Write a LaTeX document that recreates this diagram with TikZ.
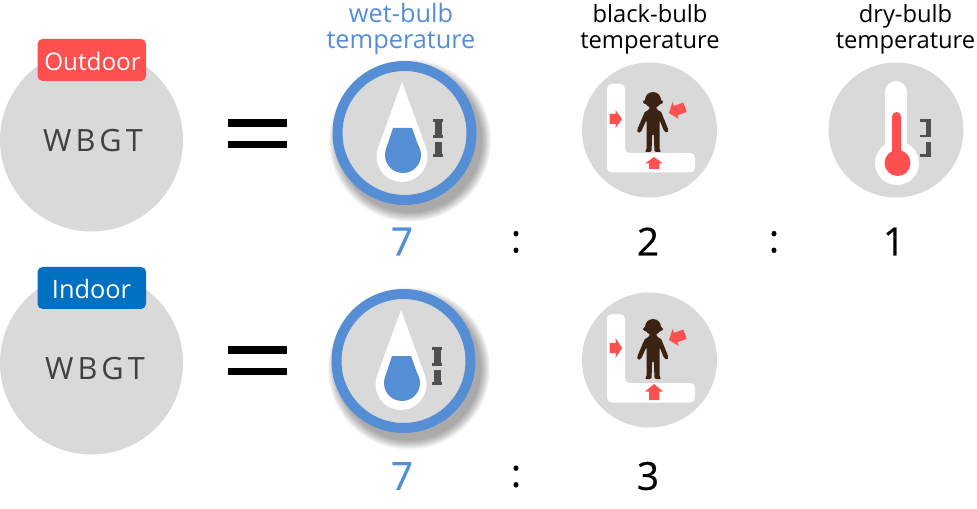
\documentclass[tikz,border=0pt]{standalone}
\usepackage{fontspec}
\setmainfont{Open Sans}
\definecolor{cgray}{HTML}{D9D9D9}
\definecolor{cblue}{HTML}{558ED5}
\definecolor{cred}{HTML}{FF5050}
\definecolor{cindoor}{HTML}{0070C0}
\definecolor{ctext}{HTML}{404040}
\definecolor{cruler}{HTML}{505050}
\definecolor{cbrown}{HTML}{3B2314}
\tikzset{
  x=0.75pt,y=-0.75pt,
  headtext/.style={align=center,font=\fontsize{17.8}{19.5}\selectfont,text=black,inner sep=0pt},
  wethead/.style={align=center,font=\fontsize{19}{19.5}\selectfont,text=cblue,inner sep=0pt},
  numtext/.style={font=\fontsize{29}{32}\selectfont\addfontfeature{FakeBold=0.5},text=black,inner sep=0pt},
  wbgt/.style={font=\fontsize{23}{26}\selectfont,text=ctext,inner sep=0pt},
  tagtext/.style={font=\fontsize{18.2}{20}\selectfont,text=white,inner sep=0pt},
}
\newcommand{\wbgtdisc}[3]{%
  \fill[cgray] (91.5,#1) circle[radius=91.5];
  \fill[#3,rounded corners=3.8pt] (37.5,#2) rectangle (146,#2+42);
}
\newcommand{\equalsign}[1]{%
  \fill[black] (228,#1) rectangle (287,#1+8);
  \fill[black] (228,#1+22) rectangle (287,#1+29.5);
}
\newcommand{\wetbulb}{%
  \foreach \rr in {81,80,79,78,77,76,75,74,73,72} {
    \fill[black,opacity=0.04] (410,140.5) circle[radius=\rr];
  }
  \fill[cgray] (404.5,133) circle[radius=67];
  \draw[cblue,line width=7.5pt] (404.5,133) circle[radius=67];
  \fill[white] (402,82) -- (426,147.8) -- (378,147.8) -- cycle;
  \fill[white] (402,156.5) circle[radius=25.5];
  \fill[cblue] (393,128) -- (412,128) -- (419.5,149) -- (386,149) -- cycle;
  \fill[cblue] (403,155) circle[radius=18];
  \fill[cruler] (433,119) rectangle (442.5,122);
  \fill[cruler] (435,122) rectangle (441.5,135);
  \fill[cruler] (433,135) rectangle (442.5,138);
  \fill[cruler] (435,142) rectangle (441.5,154);
  \fill[cruler] (433,154) rectangle (442.5,157);
}
\newcommand{\blackbase}{%
  \fill[cgray] (649.5,130) circle[radius=67.5];
  \fill[white,rounded corners=3.5pt] (607,84) -- (625,84) -- (625,153) -- (695,153) -- (695,172.5) -- (607,172.5) -- cycle;
}
\newcommand{\person}{%
  \fill[cbrown] (653,100) circle[radius=8];
  \fill[cbrown] (653,102) ellipse[x radius=10,y radius=3.5];
  \fill[cbrown,rounded corners=1pt] (650,105) -- (656,105) -- (657,110) -- (661,111.5) -- (668.5,130) -- (667,133) -- (664,131) -- (659.5,120)
     -- (659.5,150) -- (661.5,152) -- (654.5,152) -- (653.8,134) -- (652.2,134) -- (651.5,152) -- (644.5,152) -- (646.5,150) -- (646.5,120)
     -- (641,132) -- (638,133) -- (637,130) -- (645,111.5) -- (649,110) -- cycle;
}
\newcommand{\slantarrow}{%
  \fill[cred] (669,113) -- (672.5,102) -- (674,105.9) -- (683.3,102.5) -- (686.7,111.9) -- (677.3,115.3) -- (678.7,119) -- cycle;
}
\newcommand{\drybulb}{%
  \fill[cgray] (896,130) circle[radius=67.5];
  \draw[white,line width=16.5pt,line cap=round] (896,92) -- (896,150);
  \fill[white] (897,163) circle[radius=22];
  \draw[cred,line width=6.75pt,line cap=round] (896.5,116.5) -- (896.5,155);
  \fill[cred] (897.5,163) circle[radius=13];
  \fill[cruler] (920,119) rectangle (931,122);
  \fill[cruler] (925.5,122) rectangle (931,135);
  \fill[cruler] (920,135) rectangle (931,137.5);
  \fill[cruler] (925.5,142) rectangle (931,154);
  \fill[cruler] (920,154) rectangle (931,157);
}
\begin{document}
\begin{tikzpicture}
\useasboundingbox (0,0) rectangle (977,509);
% left column
\wbgtdisc{140}{39}{cred}
\wbgtdisc{363}{267}{cindoor}
\node[tagtext] (outdoor) at (92.5,61) {Outdoor};
\node[tagtext,font=\fontsize{19}{20}\selectfont] (indoor) at (91.5,289) {Indoor};
\node[wbgt] (wbgtA) at (93,141) {W\kern3pt B\kern3pt G\kern3pt T};
\node[wbgt] (wbgtB) at (95,369) {W\kern3pt B\kern3pt G\kern3pt T};
\equalsign{119}
\equalsign{345.5}
% icons
\wetbulb
\begin{scope}[shift={(-1,228)}]\wetbulb\end{scope}
\blackbase
\person
\slantarrow
\fill[cred] (622,119) -- (615.5,110) -- (615.5,114) -- (609.5,114) -- (609.5,124) -- (615.5,124) -- (615.5,128) -- cycle;
\fill[cred] (654,157) -- (663,163.5) -- (659,163.5) -- (659,169) -- (649,169) -- (649,163.5) -- (645,163.5) -- cycle;
\begin{scope}[shift={(0,230)}]\blackbase\end{scope}
\begin{scope}[shift={(0,227)}]\person\slantarrow\end{scope}
\fill[cred] (622,348) -- (615.5,338) -- (615.5,343) -- (609.5,343) -- (609.5,353) -- (615.5,353) -- (615.5,358) -- cycle;
\fill[cred] (654,384) -- (663,391.5) -- (659,391.5) -- (659,400) -- (649,400) -- (649,391.5) -- (645,391.5) -- cycle;
\drybulb
% headings
\node[wethead] (hwet) at (401,29) {wet-bulb\\temperature};
\node[headtext] (hblack) at (650,29) {black-bulb\\temperature};
\node[headtext] (hdry) at (905.5,29) {dry-bulb\\temperature};
% ratios
\node[numtext,text=cblue] (seven1) at (402,241.5) {7};
\node[numtext] (colon1) at (516,242) {:};
\node[numtext] (two) at (648,241.5) {2};
\node[numtext] (colon2) at (774,242) {:};
\node[numtext] (one) at (894,241.5) {1};
\node[numtext,text=cblue] (seven2) at (402,476) {7};
\node[numtext] (colon3) at (516,476.5) {:};
\node[numtext] (three) at (648,476) {3};
\end{tikzpicture}
\end{document}
